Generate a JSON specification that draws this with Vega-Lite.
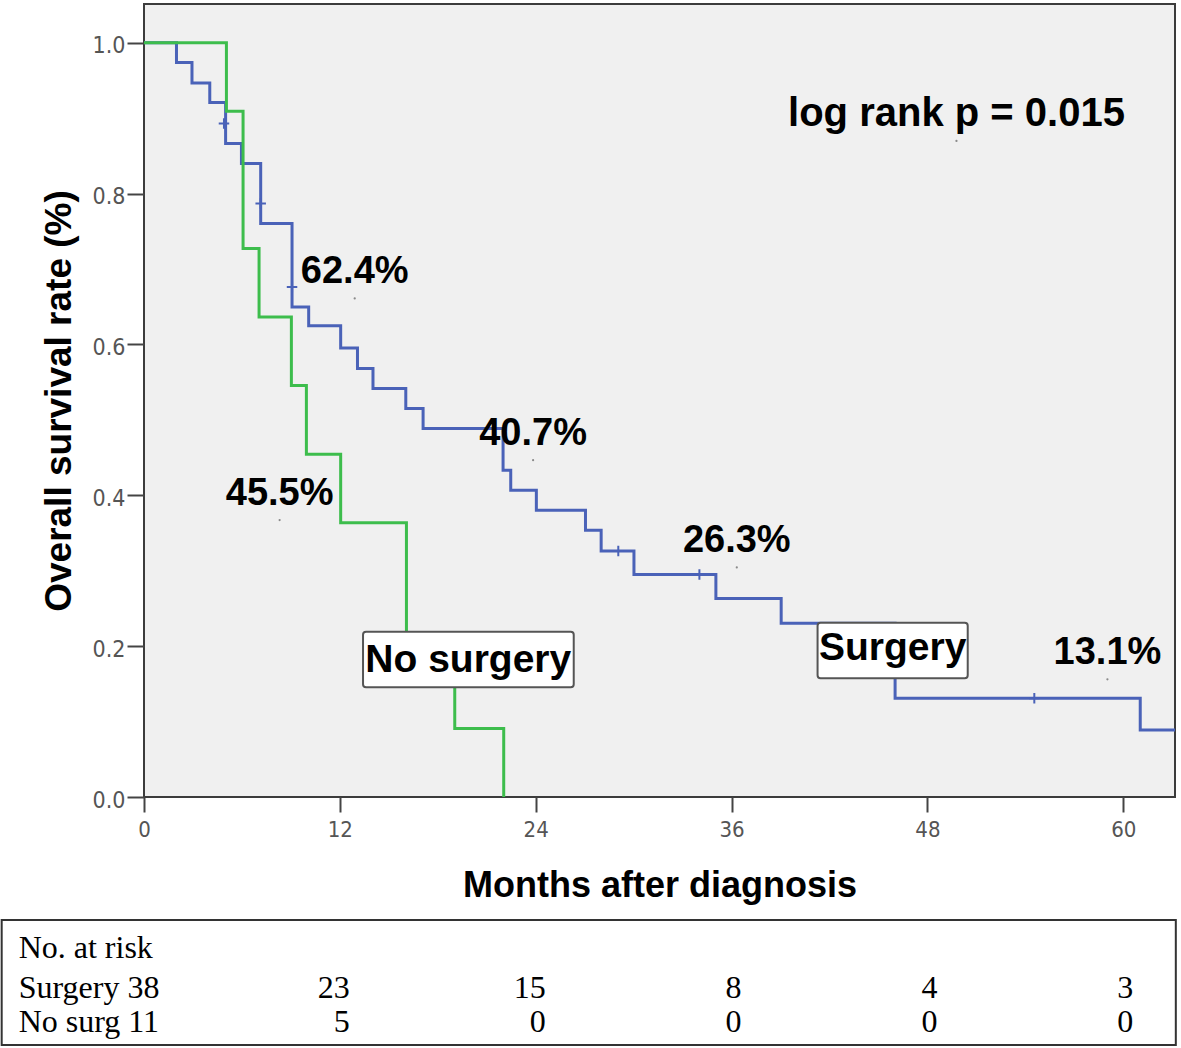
{
  "$schema": "https://vega.github.io/schema/vega-lite/v6.json",
  "width": 1031,
  "height": 793,
  "autosize": {"type": "none"},
  "padding": {"left": 144, "top": 4, "right": 6, "bottom": 251},
  "background": "white",
  "config": {
    "view": {"fill": "#f0f0f0", "stroke": "#3c3c3c", "strokeWidth": 2},
    "axis": {"grid": false, "domain": false, "labelFlush": false, "labelOverlap": false}
  },
  "datasets": {
    "curves": [
      {"group": "Surgery", "month": 0, "surv": 1.0},
      {"group": "Surgery", "month": 1.99, "surv": 0.9736},
      {"group": "Surgery", "month": 2.94, "surv": 0.9466},
      {"group": "Surgery", "month": 4.03, "surv": 0.9206},
      {"group": "Surgery", "month": 5.0, "surv": 0.8663},
      {"group": "Surgery", "month": 5.97, "surv": 0.8398},
      {"group": "Surgery", "month": 7.15, "surv": 0.7603},
      {"group": "Surgery", "month": 9.07, "surv": 0.6497},
      {"group": "Surgery", "month": 10.09, "surv": 0.6246},
      {"group": "Surgery", "month": 12.05, "surv": 0.5954},
      {"group": "Surgery", "month": 13.08, "surv": 0.5681},
      {"group": "Surgery", "month": 14.03, "surv": 0.5416},
      {"group": "Surgery", "month": 16.04, "surv": 0.5151},
      {"group": "Surgery", "month": 17.1, "surv": 0.4886},
      {"group": "Surgery", "month": 22.0, "surv": 0.4333},
      {"group": "Surgery", "month": 22.47, "surv": 0.4068},
      {"group": "Surgery", "month": 24.04, "surv": 0.3803},
      {"group": "Surgery", "month": 27.05, "surv": 0.3538},
      {"group": "Surgery", "month": 28.01, "surv": 0.326},
      {"group": "Surgery", "month": 30.02, "surv": 0.2951},
      {"group": "Surgery", "month": 35.04, "surv": 0.2633},
      {"group": "Surgery", "month": 39.04, "surv": 0.2302},
      {"group": "Surgery", "month": 46.02, "surv": 0.1308},
      {"group": "Surgery", "month": 61.04, "surv": 0.0888},
      {"group": "Surgery", "month": 63.17, "surv": 0.0888},
      {"group": "No surgery", "month": 0, "surv": 1.0},
      {"group": "No surgery", "month": 5.05, "surv": 0.9091},
      {"group": "No surgery", "month": 6.07, "surv": 0.7273},
      {"group": "No surgery", "month": 7.05, "surv": 0.6364},
      {"group": "No surgery", "month": 9.03, "surv": 0.5455},
      {"group": "No surgery", "month": 9.95, "surv": 0.4545},
      {"group": "No surgery", "month": 12.05, "surv": 0.3636},
      {"group": "No surgery", "month": 16.08, "surv": 0.1818},
      {"group": "No surgery", "month": 19.04, "surv": 0.0909},
      {"group": "No surgery", "month": 22.04, "surv": 0.0}
    ],
    "censor": [
      {"group": "Surgery", "month": 4.9, "surv": 0.8928},
      {"group": "Surgery", "month": 7.15, "surv": 0.7868},
      {"group": "Surgery", "month": 9.07, "surv": 0.676},
      {"group": "Surgery", "month": 29.06, "surv": 0.326},
      {"group": "Surgery", "month": 34.03, "surv": 0.2951},
      {"group": "Surgery", "month": 54.55, "surv": 0.1308}
    ],
    "notes": [
      {"label": "62.4%", "month": 12.91, "surv": 0.6609},
      {"label": "45.5%", "month": 8.31, "surv": 0.3671},
      {"label": "40.7%", "month": 23.84, "surv": 0.4466},
      {"label": "26.3%", "month": 36.32, "surv": 0.3044},
      {"label": "13.1%", "month": 59.03, "surv": 0.156}
    ],
    "pnote": [
      {"label": "log rank p = 0.015", "month": 49.78, "surv": 0.8697}
    ],
    "boxes": [
      {"label": "No surgery", "x0": 13.42, "x1": 26.33, "y0": 0.1454, "y1": 0.2191, "mid": 19.87, "base": 0.166},
      {"label": "Surgery", "x0": 41.27, "x1": 50.47, "y0": 0.1573, "y1": 0.231, "mid": 45.87, "base": 0.1816}
    ],
    "risk": [
      {"group": "Surgery", "month": 12, "n": 23},
      {"group": "Surgery", "month": 24, "n": 15},
      {"group": "Surgery", "month": 36, "n": 8},
      {"group": "Surgery", "month": 48, "n": 4},
      {"group": "Surgery", "month": 60, "n": 3},
      {"group": "No surgery", "month": 12, "n": 5},
      {"group": "No surgery", "month": 24, "n": 0},
      {"group": "No surgery", "month": 36, "n": 0},
      {"group": "No surgery", "month": 48, "n": 0},
      {"group": "No surgery", "month": 60, "n": 0}
    ]
  },
  "layer": [
    {
      "data": {"name": "curves"},
      "transform": [{"filter": "datum.group === 'Surgery'"}],
      "mark": {"type": "line", "interpolate": "step-after", "strokeWidth": 3},
      "encoding": {
        "x": {
          "field": "month", "type": "quantitative",
          "scale": {"domain": [0, 63.17], "nice": false, "zero": false},
          "axis": {
            "values": [0, 12, 24, 36, 48, 60],
            "tickSize": 15, "tickWidth": 2, "tickColor": "#444444",
            "labelFont": "Liberation Sans Narrow, Arial Narrow, DejaVu Sans Condensed, Liberation Sans",
            "labelFontSize": 22, "labelColor": "#555555", "labelPadding": 7,
            "title": "Months after diagnosis",
            "titleFont": "Liberation Sans", "titleFontSize": 36, "titleFontWeight": "bold",
            "titleColor": "#000000", "titleY": 99, "titleBaseline": "alphabetic"
          }
        },
        "y": {
          "field": "surv", "type": "quantitative",
          "scale": {"domain": [0, 1.0513], "nice": false, "zero": false},
          "axis": {
            "values": [0, 0.2, 0.4, 0.6, 0.8, 1.0], "format": ".1f",
            "tickSize": 17, "tickWidth": 2, "tickColor": "#444444",
            "labelFont": "Liberation Sans Narrow, Arial Narrow, DejaVu Sans Condensed, Liberation Sans",
            "labelFontSize": 23, "labelColor": "#555555", "labelPadding": 2, "labelOffset": 3,
            "title": "Overall survival rate (%)",
            "titleFont": "Liberation Sans", "titleFontSize": 37, "titleFontWeight": "bold",
            "titleColor": "#000000", "titleX": -73.5, "titleBaseline": "alphabetic"
          }
        },
        "color": {
          "field": "group", "type": "nominal",
          "scale": {"domain": ["Surgery", "No surgery"], "range": ["#4a62b8", "#3dbd4c"]},
          "legend": null
        }
      }
    },
    {
      "data": {"name": "censor"},
      "mark": {"type": "point", "shape": "M-1,0H1M0,-1V1", "filled": false, "strokeWidth": 2, "size": 110, "opacity": 1},
      "encoding": {
        "x": {"field": "month", "type": "quantitative"},
        "y": {"field": "surv", "type": "quantitative"},
        "color": {"field": "group", "type": "nominal"}
      }
    },
    {
      "data": {"name": "curves"},
      "transform": [{"filter": "datum.group === 'No surgery'"}],
      "mark": {"type": "line", "interpolate": "step-after", "strokeWidth": 3},
      "encoding": {
        "x": {"field": "month", "type": "quantitative"},
        "y": {"field": "surv", "type": "quantitative"},
        "color": {"field": "group", "type": "nominal"}
      }
    },
    {
      "data": {"name": "boxes"},
      "mark": {"type": "rect", "fill": "white", "stroke": "#555555", "strokeWidth": 2, "cornerRadius": 3},
      "encoding": {
        "x": {"field": "x0", "type": "quantitative"},
        "x2": {"field": "x1"},
        "y": {"field": "y0", "type": "quantitative"},
        "y2": {"field": "y1"}
      }
    },
    {
      "data": {"name": "boxes"},
      "mark": {"type": "text", "font": "Liberation Sans", "fontWeight": "bold", "fontSize": 39, "align": "center", "baseline": "alphabetic", "color": "#000000"},
      "encoding": {
        "x": {"field": "mid", "type": "quantitative"},
        "y": {"field": "base", "type": "quantitative"},
        "text": {"field": "label"}
      }
    },
    {
      "data": {"name": "notes"},
      "mark": {"type": "point", "filled": true, "size": 5, "color": "#8a8a8a", "opacity": 1},
      "encoding": {
        "x": {"field": "month", "type": "quantitative"},
        "y": {"field": "surv", "type": "quantitative"}
      }
    },
    {
      "data": {"name": "notes"},
      "mark": {"type": "text", "font": "Liberation Sans", "fontWeight": "bold", "fontSize": 38, "align": "center", "baseline": "alphabetic", "dy": -15, "color": "#000000"},
      "encoding": {
        "x": {"field": "month", "type": "quantitative"},
        "y": {"field": "surv", "type": "quantitative"},
        "text": {"field": "label"}
      }
    },
    {
      "data": {"name": "pnote"},
      "mark": {"type": "point", "filled": true, "size": 5, "color": "#8a8a8a", "opacity": 1},
      "encoding": {
        "x": {"field": "month", "type": "quantitative"},
        "y": {"field": "surv", "type": "quantitative"}
      }
    },
    {
      "data": {"name": "pnote"},
      "mark": {"type": "text", "font": "Liberation Sans", "fontWeight": "bold", "fontSize": 40, "align": "center", "baseline": "alphabetic", "dy": -15, "color": "#000000"},
      "encoding": {
        "x": {"field": "month", "type": "quantitative"},
        "y": {"field": "surv", "type": "quantitative"},
        "text": {"field": "label"}
      }
    },
    {
      "data": {"values": [{"table": "No. at risk"}]},
      "mark": {"type": "rect", "fill": "white", "stroke": "#333333", "strokeWidth": 2},
      "encoding": {
        "x": {"datum": -8.72, "type": "quantitative"},
        "x2": {"datum": 63.22},
        "y": {"datum": -0.163, "type": "quantitative"},
        "y2": {"datum": -0.3287}
      }
    },
    {
      "data": {"values": [{"label": "No. at risk"}]},
      "mark": {"type": "text", "font": "Liberation Serif", "fontSize": 32, "align": "left", "baseline": "alphabetic", "color": "#000000"},
      "encoding": {
        "x": {"datum": -7.68, "type": "quantitative"},
        "y": {"datum": -0.2138, "type": "quantitative"},
        "text": {"field": "label"}
      }
    },
    {
      "data": {"values": [{"label": "Surgery 38"}]},
      "mark": {"type": "text", "font": "Liberation Serif", "fontSize": 32, "align": "left", "baseline": "alphabetic", "color": "#000000"},
      "encoding": {
        "x": {"datum": -7.68, "type": "quantitative"},
        "y": {"datum": -0.2664, "type": "quantitative"},
        "text": {"field": "label"}
      }
    },
    {
      "data": {"values": [{"label": "No surg 11"}]},
      "mark": {"type": "text", "font": "Liberation Serif", "fontSize": 32, "align": "left", "baseline": "alphabetic", "color": "#000000"},
      "encoding": {
        "x": {"datum": -7.68, "type": "quantitative"},
        "y": {"datum": -0.311, "type": "quantitative"},
        "text": {"field": "label"}
      }
    },
    {
      "data": {"name": "risk"},
      "transform": [{"filter": "datum.group === 'Surgery'"}],
      "mark": {"type": "text", "font": "Liberation Serif", "fontSize": 32, "align": "right", "baseline": "alphabetic", "dx": 10, "color": "#000000"},
      "encoding": {
        "x": {"field": "month", "type": "quantitative"},
        "y": {"datum": -0.2664, "type": "quantitative"},
        "text": {"field": "n"}
      }
    },
    {
      "data": {"name": "risk"},
      "transform": [{"filter": "datum.group === 'No surgery'"}],
      "mark": {"type": "text", "font": "Liberation Serif", "fontSize": 32, "align": "right", "baseline": "alphabetic", "dx": 10, "color": "#000000"},
      "encoding": {
        "x": {"field": "month", "type": "quantitative"},
        "y": {"datum": -0.311, "type": "quantitative"},
        "text": {"field": "n"}
      }
    }
  ]
}
